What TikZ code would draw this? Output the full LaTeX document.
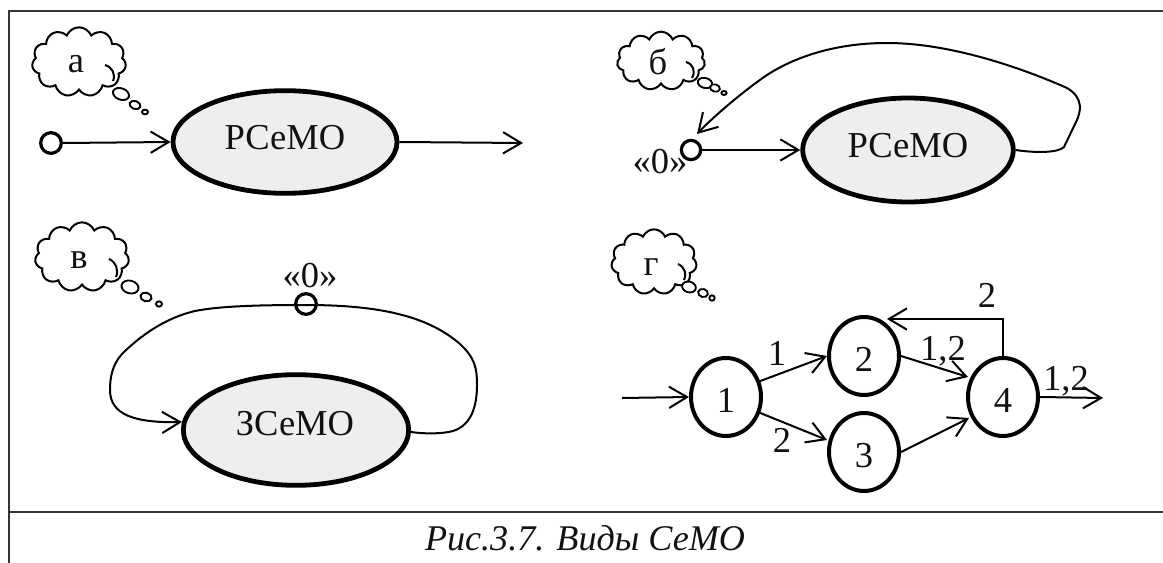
\documentclass[tikz,border=0pt]{standalone}
\usepackage{fontspec}
\setmainfont{Liberation Serif}
\usetikzlibrary{shapes.geometric,shapes.symbols,arrows.meta,calc}
\definecolor{ink}{HTML}{111111}
\definecolor{semo}{HTML}{EEEEEE}
\tikzset{
  txt/.style={anchor=base,inner sep=0pt,text=ink,font=\fontsize{27.4}{30}\selectfont},
  capt/.style={txt,font=\fontsize{27.1}{30}\selectfont\itshape},
  frameline/.style={draw=ink!85,line width=2pt},
  semonode/.style={draw=black,ellipse,fill=semo,line width=3.6pt,inner sep=0pt},
  port/.style={draw=black,circle,line width=2.4pt,inner sep=0pt,minimum size=15.5pt},
  stage/.style={draw=black,ellipse,line width=3pt,inner sep=0pt,minimum width=52.5pt,minimum height=58.5pt},
  conn/.style={draw=black,line width=1.5pt},
  arr/.style={conn,-{Straight Barb[length=13.5pt,width=16pt,line width=1.5pt]}},
  puff/.style={draw=black,cloud,cloud puffs=11,cloud puff arc=135,line width=1.5pt,inner sep=0pt},
  curl/.style={draw=black,line width=1.5pt},
  bub/.style={draw=black,ellipse,line width=1.4pt,inner sep=0pt,fill=white},
}
\begin{document}
\begin{tikzpicture}[x=0.75pt,y=-0.75pt]
\useasboundingbox (0,0) rectangle (1163,563);
% frame
\coordinate (fa) at (9,563);\coordinate (fb) at (9,11);\coordinate (fc) at (1163,11);
\coordinate (fd) at (9,512);\coordinate (fe) at (1163,512);
\draw[frameline] (fa) -- (fb) -- (fc);
\draw[frameline] (fd) -- (fe);
% ---- a
\node[puff,minimum width=70.5pt,minimum height=52pt,aspect=1.36] (ca) at (79,62) {};
\node[txt] (la) at (76,73) {а};
\coordinate (cap1) at (105,65);
\draw[curl] (cap1) .. controls (112,67) and (116,74) .. (113,81);
\node[bub,minimum width=12.5pt,minimum height=8.5pt,rotate=-20] (ba1) at (121,94) {};
\node[bub,minimum width=8.5pt,minimum height=6pt,rotate=-20] (ba2) at (135,105) {};
\node[bub,minimum width=4.5pt,minimum height=3.5pt] (ba3) at (145,112) {};
\node[port] (pa) at (51,143) {};
\node[semonode,minimum width=168pt,minimum height=77pt] (ea) at (285,142) {};
\node[txt] (ta) at (285,150) {РСеМО};
\coordinate (oa) at (523,143);
\draw[arr] (pa.east) -- (ea.west);
\draw[arr] (ea.east) -- (oa);
% ---- b
\node[puff,minimum width=66pt,minimum height=44pt,aspect=1.5] (cb) at (661,61) {};
\node[txt] (lb) at (658,75) {б};
\coordinate (cbp) at (686,62);
\draw[curl] (cbp) .. controls (693,64) and (696,71) .. (692,78);
\node[bub,minimum width=11pt,minimum height=7.5pt,rotate=-15] (bb1) at (705,83) {};
\node[bub,minimum width=7.5pt,minimum height=5.5pt,rotate=-15] (bb2) at (715,88) {};
\node[bub,minimum width=4pt,minimum height=3pt] (bb3) at (724,93) {};
\node[port,minimum size=14.5pt] (pb) at (691,150) {};
\node[txt] (zb) at (660,174) {«0»};
\node[semonode,minimum width=158pt,minimum height=78pt] (eb) at (908,150) {};
\node[txt] (tb) at (908,157) {РСеМО};
\coordinate (tipb) at (697,134);
\draw[arr] (pb.east) -- (eb.west);
\draw[arr] (eb.east) .. controls (1035,153) and (1058,153) .. (1064,147)
  -- (1076,122) .. controls (1081,112) and (1084,98) .. (1067,88)
  .. controls (1040,76) and (960,43) .. (887,43)
  .. controls (830,43) and (790,60) .. (767,75)
  .. controls (745,90) and (715,115) .. (tipb);
% ---- c
\node[puff,minimum width=70.5pt,minimum height=52pt,aspect=1.36] (cc) at (82,257) {};
\node[txt] (lc) at (79,268) {в};
\coordinate (ccp) at (109,259);
\draw[curl] (ccp) .. controls (116,262) and (119,270) .. (116,277);
\node[bub,minimum width=13pt,minimum height=9.5pt,rotate=-15] (bc1) at (130,287) {};
\node[bub,minimum width=8.5pt,minimum height=6.5pt,rotate=-15] (bc2) at (146,297) {};
\node[bub,minimum width=4.5pt,minimum height=4pt] (bc3) at (159,304) {};
\node[semonode,minimum width=169pt,minimum height=83pt] (ec) at (296,430) {};
\node[txt] (tc) at (295,435) {ЗСеМО};
\node[port] (pc) at (306,304) {};
\node[txt] (zc) at (310,287) {«0»};
\draw[arr] (ec.-1.5) .. controls (425,434) and (442,434) .. (453,431)
  .. controls (472,425) and (477,405) .. (477,385)
  .. controls (477,368) and (475,358) .. (460,344)
  .. controls (430,318) and (385,305) .. (306,305)
  .. controls (260,305) and (220,306) .. (195,311)
  .. controls (165,318) and (140,336) .. (122,354)
  .. controls (112,365) and (110,378) .. (110,390)
  .. controls (110,415) and (135,423) .. (ec.176.5);
% ---- d
\node[puff,minimum width=64pt,minimum height=49pt,aspect=1.3] (cd) at (654,262) {};
\node[txt] (ld) at (651,275) {г};
\coordinate (cdp) at (678,264);
\draw[curl] (cdp) .. controls (685,267) and (687,275) .. (684,280);
\node[bub,minimum width=10.5pt,minimum height=8pt,rotate=-15] (bd1) at (689,287) {};
\node[bub,minimum width=7.5pt,minimum height=6pt,rotate=-15] (bd2) at (703,293) {};
\node[bub,minimum width=4pt,minimum height=4pt] (bd3) at (712,298) {};
\node[stage] (n1) at (726,397) {};
\node[stage] (n2) at (864,356) {};
\node[stage] (n3) at (864,452) {};
\node[stage] (n4) at (1003,397) {};
\node[txt] at (726,412) (t1) {1};
\node[txt] at (864,371) (t2) {2};
\node[txt] at (864,467) (t3) {3};
\node[txt] at (1003,412) (t4) {4};
\coordinate (inn) at (622,398);
\coordinate (out) at (1103,398);
\coordinate (back) at (887,319);
\coordinate (tip13) at (827,440);
\coordinate (tip24) at (968,377);
\coordinate (tip34) at (969,418);
\draw[arr] (inn) -- (n1.west);
\draw[arr] (n1.25) -- (n2.west);
\draw[arr] (n1.-25) -- (tip13);
\draw[arr] (n2.east) -- (tip24);
\draw[arr] (n3.east) -- (tip34);
\draw[arr] (n4.east) -- (out);
\draw[arr] (n4.north) |- (back);
\node[txt] (w1) at (777,365) {1};
\node[txt] (w2) at (782,452) {2};
\node[txt] (w3) at (943,360) {1,2};
\node[txt] (w4) at (1066,390) {1,2};
\node[txt] (w5) at (987,307) {2};
% caption
\node[capt] (cap) at (585,550) {Рис.3.7. Виды СеМО};
\end{tikzpicture}
\end{document}
